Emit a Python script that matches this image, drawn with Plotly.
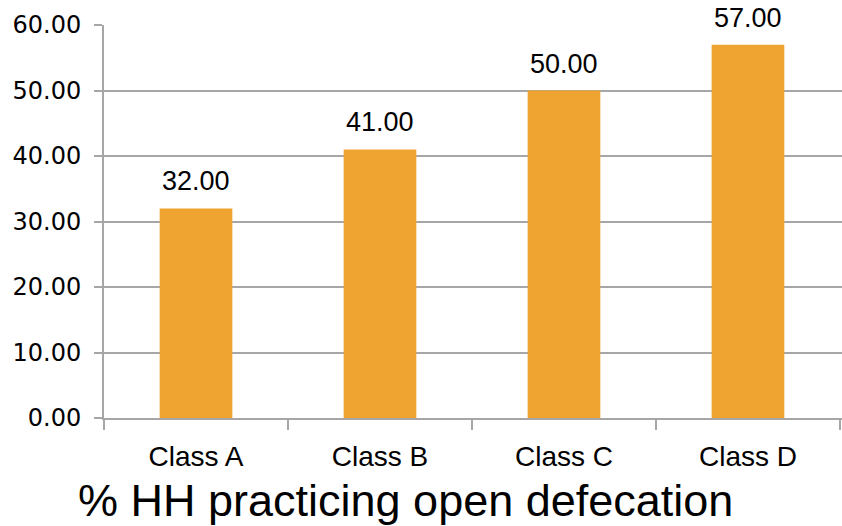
import plotly.graph_objects as go

# Share of households practicing open defecation, by class
categories = ["Class A", "Class B", "Class C", "Class D"]
values = [32.00, 41.00, 50.00, 57.00]
y_ticks = [0, 10, 20, 30, 40, 50, 60]
y_tick_labels = [f"{v:.2f}" for v in y_ticks]
title_text = "% HH practicing open defecation"

BAR_COLOR = "#EFA330"
GRID_COLOR = "#A6A6A6"
FONT = "Liberation Sans, Arial, sans-serif"
TICK_FONT = "DejaVu Sans, sans-serif"

fig = go.Figure()
fig.add_trace(go.Bar(
    x=categories,
    y=values,
    width=0.395,
    marker=dict(color=BAR_COLOR, line=dict(width=0)),
    hoverinfo="x+y",
))

# Value labels above each bar
for cat, val in zip(categories, values):
    fig.add_annotation(
        x=cat, y=val, text=f"{val:.2f}",
        xref="x", yref="y", yanchor="bottom", showarrow=False,
        yshift=10, font=dict(family=FONT, size=27, color="#000000"),
    )

# Chart title placed under the category labels
fig.add_annotation(
    x=0.408, y=-0.21, xref="paper", yref="paper",
    xanchor="center", yanchor="middle", showarrow=False,
    text=title_text, font=dict(family=FONT, size=45, color="#000000"),
)

fig.update_layout(
    width=842, height=526,
    margin=dict(l=104, r=0, t=25, b=108),
    paper_bgcolor="#FFFFFF", plot_bgcolor="#FFFFFF",
    showlegend=False,
    font=dict(family=FONT, color="#000000"),
    bargap=0.6,
)

fig.update_xaxes(
    type="category",
    range=[-0.5, 3.511],
    tickson="boundaries",
    ticks="outside", ticklen=10, tickwidth=2, tickcolor=GRID_COLOR,
    showline=True, linecolor=GRID_COLOR, linewidth=2,
    showgrid=False, zeroline=False,
    tickfont=dict(family=FONT, size=28, color="#000000"),
    ticklabelstandoff=12,
)

fig.update_yaxes(
    range=[0, 60],
    tickvals=y_ticks, ticktext=y_tick_labels,
    ticks="outside", ticklen=8, tickwidth=2, tickcolor=GRID_COLOR,
    showline=True, linecolor=GRID_COLOR, linewidth=2,
    showgrid=True, gridcolor=GRID_COLOR, gridwidth=2,
    zeroline=False,
    tickfont=dict(family=TICK_FONT, size=24, color="#000000"),
    ticklabelstandoff=8,
)

fig.write_html("out.html")
